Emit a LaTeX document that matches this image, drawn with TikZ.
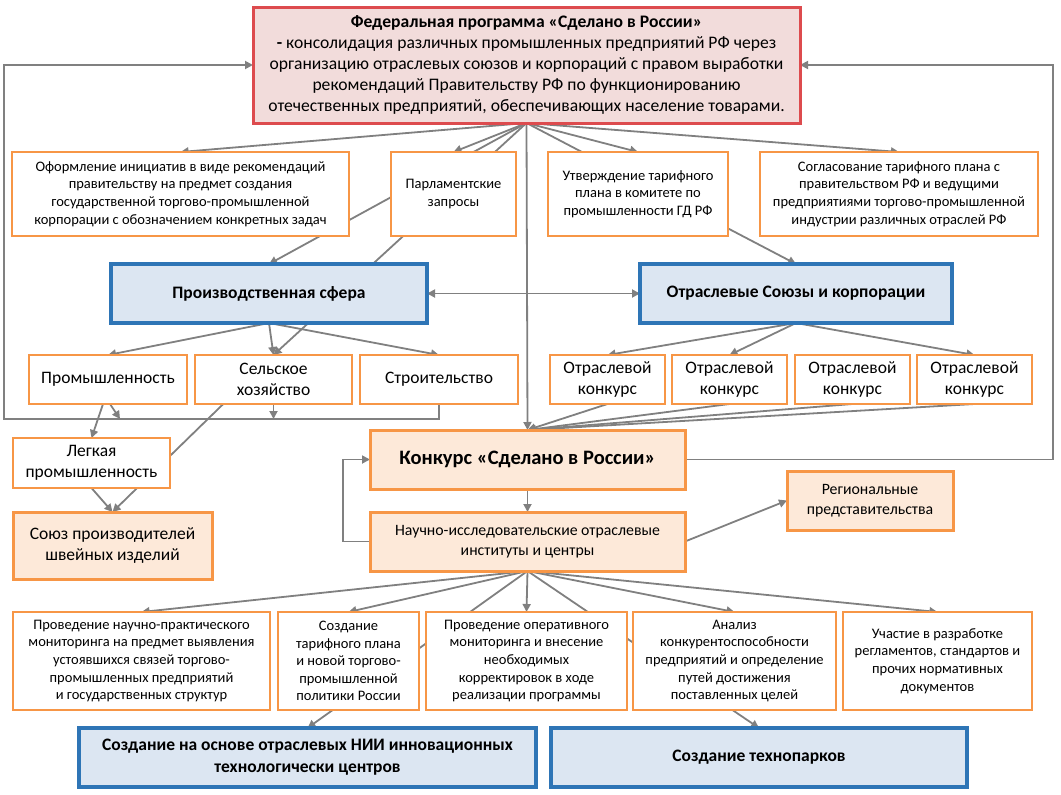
\documentclass[tikz,border=0pt]{standalone}
\usepackage{fontspec}
\setmainfont{Carlito}
\usetikzlibrary{arrows.meta,calc}
\definecolor{orng}{RGB}{247,150,70}
\definecolor{lorng}{RGB}{253,233,217}
\definecolor{blu}{RGB}{46,117,182}
\definecolor{lblu}{RGB}{220,230,242}
\definecolor{rd}{RGB}{221,75,78}
\definecolor{pnk}{RGB}{242,220,219}
\definecolor{lgray}{RGB}{128,128,128}
\pgfdeclarelayer{bg}
\pgfsetlayers{bg,main}
\newcommand\bx[7]{\node[#1,anchor=north west,minimum width={#4-#2},minimum height={#5-#3}] (#6) at (#2,#3) {#7};}
\tikzset{
  ln/.style={draw=lgray,line width=1.8pt},
  arr/.style={ln,-{Triangle[length=8pt,width=8pt]}},
  darr/.style={ln,{Triangle[length=8pt,width=8pt]}-{Triangle[length=8pt,width=8pt]}},
  base/.style={align=center,inner sep=0pt,outer sep=0pt,text=black},
  ob/.style={base,draw=orng,line width=2.2pt,fill=white},
  ol/.style={base,draw=orng,line width=3pt,fill=lorng},
  bb/.style={base,draw=blu,line width=3.2pt,fill=lblu,font=\bfseries\fontsize{17.5}{22}\selectfont},
  fedbox/.style={base,draw=rd,line width=3pt,fill=pnk,font=\fontsize{17.6}{21}\selectfont},
  sm/.style={font=\fontsize{14.5}{17.6}\selectfont},
  md/.style={font=\fontsize{17.5}{21}\selectfont},
  ni/.style={font=\fontsize{15.8}{20.5}\selectfont},
  kon/.style={font=\bfseries\fontsize{20.5}{24}\selectfont},
}
\begin{document}
\begin{tikzpicture}[x=1pt,y=-1pt]
\useasboundingbox (0,0) rectangle (1061,795);
% top
\bx{fedbox}{253}{7}{800}{123}{fed}{\textbf{Федеральная программа «Сделано в России»}\\
\textbf{-} консолидация различных промышленных предприятий РФ через\\
организацию отраслевых союзов и корпораций с правом выработки\\
рекомендаций Правительству РФ по функционированию\\
отечественных предприятий, обеспечивающих население товарами.}
% row A
\bx{ob,sm}{12}{152}{349}{236}{A1}{Оформление инициатив в виде рекомендаций\\правительству на предмет создания\\государственной торгово-промышленной\\корпорации с обозначением конкретных задач}
\bx{ob,sm}{391}{152}{516}{236}{A2}{Парламентские\\запросы}
\bx{ob,sm}{548}{152}{728}{236}{A3}{Утверждение тарифного\\плана в комитете по\\промышленности ГД РФ}
\bx{ob,sm}{760}{152}{1038}{236}{A4}{Согласование тарифного плана с\\правительством РФ и ведущими\\предприятиями торгово-промышленной\\индустрии различных отраслей РФ}
% blue
\bx{bb}{111}{264}{427}{323}{P}{Производственная сфера}
\bx{bb}{640}{264}{952}{323}{O}{Отраслевые Союзы и корпорации}
% row R
\bx{ob,md}{29}{355}{187}{404}{R1}{Промышленность}
\bx{ob,md}{195}{355}{352}{404}{R2}{Сельское\\хозяйство}
\bx{ob,md}{360}{355}{518}{404}{R3}{Строительство}
\bx{ob,md}{550}{355}{665}{404}{K1}{Отраслевой\\конкурс}
\bx{ob,md}{672}{355}{787}{404}{K2}{Отраслевой\\конкурс}
\bx{ob,md}{795}{355}{910}{404}{K3}{Отраслевой\\конкурс}
\bx{ob,md}{917}{355}{1032}{404}{K4}{Отраслевой\\конкурс}
% left column
\bx{ob,md}{13}{438}{170}{488}{L}{Легкая\\промышленность}
\bx{ol,md}{13}{512}{212}{579}{U}{Союз производителей\\швейных изделий}
% center
\bx{ol,kon}{370}{430}{685}{489}{Kon}{Конкурс «Сделано в России»}
\bx{ol,ni}{370}{512}{685}{571}{N}{Научно-исследовательские отраслевые\\институты и центры}
\bx{ol,ni}{787}{471}{953}{530}{Reg}{Региональные\\представительства}
% row B
\bx{ob,sm}{13}{612}{270}{710}{B1}{Проведение научно-практического\\мониторинга на предмет выявления\\устоявшихся связей торгово-\\промышленных предприятий\\и государственных структур}
\bx{ob,sm}{278}{612}{419}{710}{B2}{Создание\\тарифного плана\\и новой торгово-\\промышленной\\политики России}
\bx{ob,sm}{426}{612}{627}{710}{B3}{Проведение оперативного\\мониторинга и внесение\\необходимых\\корректировок в ходе\\реализации программы}
\bx{ob,sm}{633}{612}{836}{710}{B4}{Анализ\\конкурентоспособности\\предприятий и определение\\путей достижения\\поставленных целей}
\bx{ob,sm}{843}{612}{1032}{710}{B5}{Участие в разработке\\регламентов, стандартов и\\прочих нормативных\\документов}
% row C
\bx{bb}{79}{728}{536}{787}{C1}{Создание на основе отраслевых НИИ инновационных\\технологически центров}
\bx{bb}{551}{728}{967}{787}{C2}{Создание технопарков}
% helper coordinates
\coordinate (frL) at (4,419);
\coordinate (frR) at (1053,65);
\coordinate (hitA) at (120,419);
\coordinate (hitB) at (273.5,419);
\coordinate (loopN) at (343,541.5);
\begin{pgfonlayer}{bg}
% from federal program
\draw[arr] (fed.south) -- (A1.north);
\draw[arr] (fed.south) -- (P.north);
\draw[arr] (fed.south) -- (A2.north);
\draw[arr] (fed.south) -- (R2.north);
\draw[arr] (fed.south) -- (Kon.north);
\draw[arr] (fed.south) -- (O.north);
\draw[arr] (fed.south) -- (A3.north);
\draw[arr] (fed.south) -- (A4.north);
% production sphere
\draw[arr] (P.south) -- (R1.north);
\draw[arr] (P.south) -- (R2.north);
\draw[arr] (P.south) -- (R3.north);
\draw[darr] (P.east) -- (O.west);
% unions
\draw[arr] (O.south) -- (K1.north);
\draw[arr] (O.south) -- (K2.north);
\draw[arr] (O.south) -- (K4.north);
\foreach \k in {K1,K2,K3,K4} \draw[arr] (\k.south) -- (Kon.north);
% left frame
\draw[arr] (R3.south) |- (frL) |- (fed.west);
\draw[arr] ([xshift=2pt]R1.south) -- (hitA);
\draw[arr] ([xshift=-5pt]R1.south) -- (L.north);
\draw[arr] (R2.south) -- (hitB);
\draw[arr] ($(R2.south west)!0.18!(R2.south east)$) -- (U.north);
\draw[arr] (L.south) -- (U.north);
% right frame
\draw[arr] (Kon.east) -| (frR) -- (fed.east);
% contest
\draw[arr] (Kon.south) -- (N.north);
\draw[arr] (N.west) -- (loopN) |- (Kon.west);
\draw[arr] (N.east) -- (Reg.west);
% research institutes
\draw[arr] (N.south) -- (B1.north);
\draw[arr] (N.south) -- (B2.north);
\draw[arr] (N.south) -- (C1.north);
\draw[arr] (N.south) -- (B3.north);
\draw[arr] (N.south) -- (C2.north);
\draw[arr] (N.south) -- (B4.north);
\draw[arr] (N.south) -- (B5.north);
\end{pgfonlayer}
\end{tikzpicture}
\end{document}
